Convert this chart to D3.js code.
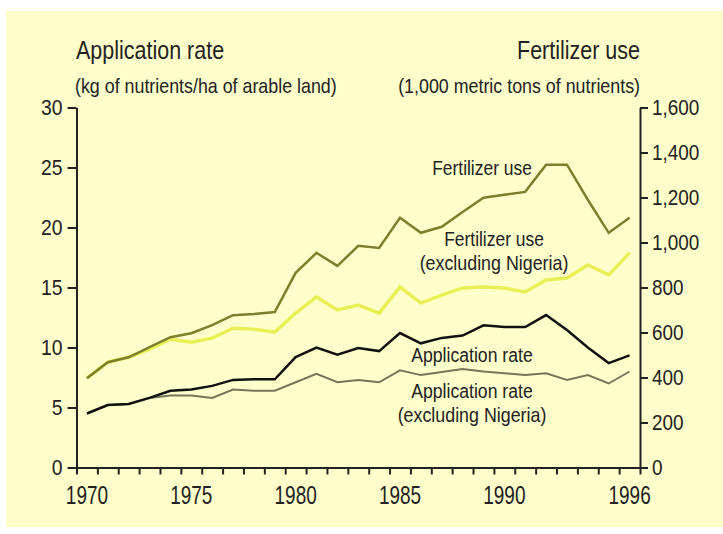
<!DOCTYPE html>
<html><head><meta charset="utf-8">
<script src="https://cdn.jsdelivr.net/npm/d3@7"></script>
<style>
html,body{margin:0;padding:0;background:#fff;}
svg{display:block;}
text{font-family:"Liberation Sans",Arial,sans-serif;fill:#222;}
</style></head>
<body>
<svg id="chart" width="723" height="534"></svg>
<script>
const years = d3.range(1970, 1997);
// Fertilizer use, 1,000 metric tons of nutrients (right axis)
const fertilizerUse = [397,468,490,535,579,597,633,677,682,691,865,954,896,985,976,1110,1043,1070,1136,1199,1212,1225,1346,1346,1190,1043,1110];
const fertilizerUseExNigeria = [397,468,490,526,570,557,575,619,615,602,686,758,700,722,686,802,731,766,798,802,798,780,833,842,900,856,954];
// Application rate, kg of nutrients/ha of arable land (left axis)
const applicationRate = [4.5,5.2,5.3,5.8,6.4,6.5,6.8,7.3,7.35,7.35,9.2,10.0,9.4,9.95,9.7,11.2,10.35,10.8,11.0,11.85,11.7,11.7,12.7,11.45,10.0,8.7,9.35];
const applicationRateExNigeria = [4.5,5.2,5.3,5.8,6.0,6.0,5.8,6.5,6.4,6.4,7.1,7.8,7.1,7.3,7.1,8.1,7.7,7.95,8.2,8.0,7.85,7.7,7.85,7.3,7.7,7.0,8.0];
const leftTicks = [0,5,10,15,20,25,30];
const rightTicks = [0,200,400,600,800,1000,1200,1400,1600];
const xLabelYears = [1970,1975,1980,1985,1990,1996];

const svg = d3.select("#chart");
svg.append("rect").attr("x",6).attr("y",11).attr("width",717).attr("height",516).attr("fill","#ffffcc");

const L = 76.5, R = 640, T = 107.5, B = 467.5;
const x = d3.scaleBand().domain(years).range([L, R]).padding(0);
const xEdge = d3.scaleLinear().domain([1969.5, 1996.5]).range([L, R]);
const yL = d3.scaleLinear().domain([0, 30]).range([B, T]);
const yR = d3.scaleLinear().domain([0, 1600]).range([B, T]);
const cx = d => x(d) + x.bandwidth() / 2;

function condense(sel, k) {
  sel.each(function() {
    const t = d3.select(this);
    const ox = +(t.attr("x") || 0);
    t.attr("x", ox / k).attr("transform", `scale(${k},1)`);
  });
}
function styleAxis(g, fs, k) {
  g.selectAll("path.domain").attr("stroke", "#222").attr("stroke-width", 2);
  g.selectAll(".tick line").attr("stroke", "#222").attr("stroke-width", 2);
  const t = g.selectAll(".tick text").attr("font-family", '"Liberation Sans",Arial,sans-serif').attr("font-size", fs).attr("fill", "#222");
  condense(t, k);
}

// x-axis ticks at band edges
const gx = svg.append("g").attr("transform", `translate(0,${B})`)
  .call(d3.axisBottom(xEdge).tickValues(d3.range(1969.5, 1997, 1)).tickFormat("").tickSize(7).tickSizeOuter(0));
styleAxis(gx, 22, 1);
const gxl = svg.append("g").attr("transform", `translate(0,${B})`)
  .call(d3.axisBottom(x).tickValues(xLabelYears).tickSize(0).tickPadding(19).tickSizeOuter(0));
gxl.select("path.domain").remove();
styleAxis(gxl, 25, 0.76);

const gl = svg.append("g").attr("transform", `translate(${L},0)`)
  .call(d3.axisLeft(yL).tickValues(leftTicks).tickSize(9).tickPadding(5).tickSizeOuter(0));
styleAxis(gl, 22, 0.88);
const gr = svg.append("g").attr("transform", `translate(${R},0)`)
  .call(d3.axisRight(yR).tickValues(rightTicks).tickSize(8).tickPadding(4).tickSizeOuter(0).tickFormat(d3.format(",")));
styleAxis(gr, 22, 0.86);

const lineR = d3.line().x((d, i) => cx(years[i])).y(d => yR(d));
const lineL = d3.line().x((d, i) => cx(years[i])).y(d => yL(d));

svg.append("path").datum(applicationRateExNigeria).attr("d", lineL).attr("fill","none").attr("stroke","#76765a").attr("stroke-width",2);
svg.append("path").datum(applicationRate).attr("d", lineL).attr("fill","none").attr("stroke","#111").attr("stroke-width",2.5);
svg.append("path").datum(fertilizerUseExNigeria).attr("d", lineR).attr("fill","none").attr("stroke","#e9f055").attr("stroke-width",3.5);
svg.append("path").datum(fertilizerUse).attr("d", lineR).attr("fill","none").attr("stroke","#7d7f2c").attr("stroke-width",2.5);

function txt(s, px, py, fs, anchor, k) {
  svg.append("text").attr("transform", `translate(${px},${py}) scale(${k},1)`)
    .attr("font-size", fs).attr("text-anchor", anchor || "start").text(s);
}
txt("Application rate", 76, 59, 25, "start", 0.86);
txt("(kg of nutrients/ha of arable land)", 75, 93, 21, "start", 0.85);
txt("Fertilizer use", 640, 59, 25, "end", 0.86);
txt("(1,000 metric tons of nutrients)", 640, 93, 21, "end", 0.85);

txt("Fertilizer use", 482, 175, 21, "middle", 0.83);
txt("Fertilizer use", 494, 246, 21, "middle", 0.83);
txt("(excluding Nigeria)", 494, 270, 21, "middle", 0.85);
txt("Application rate", 472, 362, 21, "middle", 0.84);
txt("Application rate", 472, 398, 21, "middle", 0.84);
txt("(excluding Nigeria)", 472, 422, 21, "middle", 0.85);
</script>
</body></html>
